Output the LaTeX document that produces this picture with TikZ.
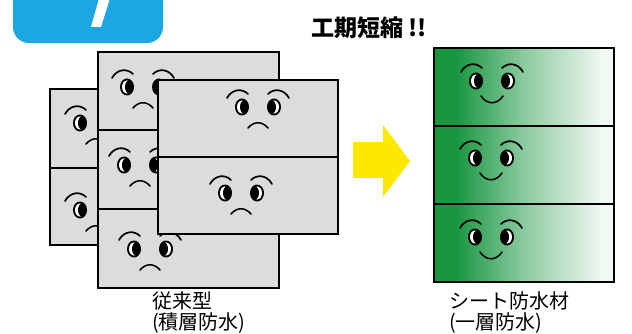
\documentclass[tikz,border=0pt]{standalone}
\usepackage{fontspec}
\newfontfamily\jp{Noto Sans CJK JP}
\usetikzlibrary{positioning}

\definecolor{tabblue}{RGB}{28,166,226}
\definecolor{sheetgreen}{RGB}{24,150,64}
\definecolor{panelgray}{RGB}{220,220,220}
\definecolor{arrowyellow}{RGB}{255,232,0}

\pgfdeclarehorizontalshading{greenfade}{100bp}{color(0bp)=(sheetgreen); color(31bp)=(sheetgreen); color(50bp)=(sheetgreen!50); color(72bp)=(sheetgreen!6); color(100bp)=(white)}

\tikzset{
	panel/.style={draw, line width=1.6pt, fill=panelgray, inner sep=0pt, anchor=north west},
	sheet/.style={draw, line width=1.6pt, shading=greenfade, inner sep=0pt, anchor=north west,
		minimum width=180pt, minimum height=78pt},
	brow/.style={line width=1.7pt, line cap=round},
	mouth/.style={line width=1.5pt, line cap=round},
	label text/.style={font=\jp\fontsize{20}{21}\selectfont, align=left, anchor=north west, inner sep=0pt}
}

% one eye: #3 = 1 looks right (left eye), -1 looks left (right eye)
\newcommand{\faceeye}[3]{%
	\fill (#1,#2) ellipse [x radius=7pt, y radius=8.5pt];
	\fill[white] (#1,#2) ellipse [x radius=5pt, y radius=6.5pt];
	\fill ({#1+2*(#3)},#2) ellipse [x radius=4pt, y radius=6.5pt];
	\draw[brow] ({#1-15*(#3)},{#2-9}) .. controls ({#1-10*(#3)},{#2-18}) and (#1,{#2-19}) .. ({#1+6*(#3)},{#2-13});
}
\newcommand{\faceeyes}[2]{%
	\pgfmathsetmacro\eyeleft{#1-16}\pgfmathsetmacro\eyeright{#1+16}
	\faceeye{\eyeleft}{#2}{1}
	\faceeye{\eyeright}{#2}{-1}
}
\newcommand{\sadface}[2]{%
	\faceeyes{#1}{#2}
	\draw[mouth] (#1,#2) ++(-10,21) .. controls +(6,-7) and +(-6,-7) .. ++(20,0);
}
\newcommand{\happyface}[2]{%
	\faceeyes{#1}{#2}
	\draw[mouth] (#1,#2) ++(-11,15) .. controls +(6,9) and +(-6,9) .. ++(22,0);
}

\begin{document}
\begin{tikzpicture}[x=1pt, y=-1pt]
		\useasboundingbox (0,0) rectangle (632,334);

		% numbered tab
		\fill[tabblue, rounded corners=16pt] (13,-30) rectangle (163,43);
		\fill[white] (100,-5) -- (111,-5) -- (101,27) -- (91,27) -- cycle;
		\node[font=\jp\bfseries\fontsize{23}{25}\selectfont](title) at (369,28) {工期短縮 !!};

		% layered sheets, back to front
		\node[panel, minimum width=150pt, minimum height=79pt](a1) at (49,88) {};
		\sadface{96}{123}
		\node[panel, minimum width=150pt, minimum height=77pt](a2) at (49,167) {};
		\sadface{96}{210}

		\node[panel, minimum width=181pt, minimum height=78pt](b1) at (97,51) {};
		\sadface{143}{87}
		\node[panel, minimum width=181pt, minimum height=79pt](b2) at (97,129) {};
		\sadface{140}{165}
		\node[panel, minimum width=181pt, minimum height=79pt](b3) at (97,208) {};
		\sadface{150}{249}

		\node[panel, minimum width=180pt, minimum height=77pt](c1) at (157,79) {};
		\sadface{258}{107}
		\node[panel, minimum width=180pt, minimum height=77pt](c2) at (157,156) {};
		\sadface{241}{193}

		\node[label text](old) at (152,291) {従来型\\(積層防水)};

		% arrow
		\fill[arrowyellow] (353,142) -- (383,142) -- (383,125) -- (410,161) -- (383,197) -- (383,178) -- (353,178) -- cycle;

		% single sheet
		\node[sheet](g1) at (433,47) {};
		\happyface{492}{81}
		\node[sheet](g2) at (433,125) {};
		\happyface{491}{158}
		\node[sheet](g3) at (433,203) {};
		\happyface{491}{237}

		\node[label text](new) at (449,291) {シート防水材\\(一層防水)};
	\end{tikzpicture}
\end{document}
